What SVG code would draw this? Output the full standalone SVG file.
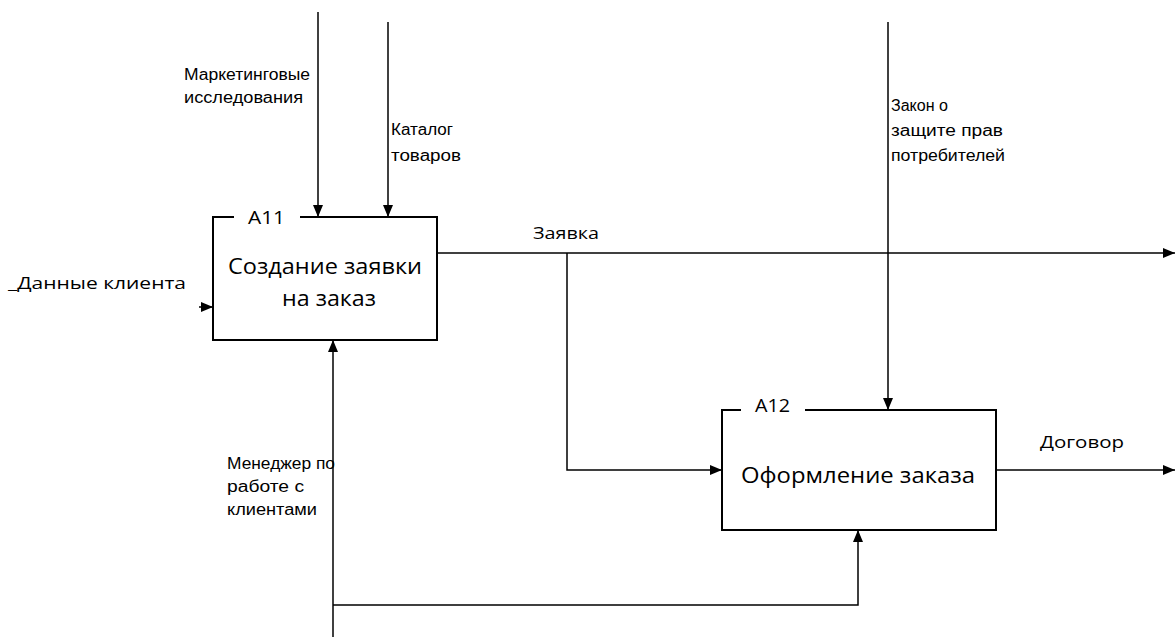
<svg xmlns="http://www.w3.org/2000/svg" width="1175" height="637" viewBox="0 0 1175 637">
<style>
.box{fill:#fff;stroke:#000;stroke-width:2}
.ln{fill:none;stroke:#000;stroke-width:1.5}
.sm{font-family:"Liberation Sans",Arial,sans-serif;font-size:16px;fill:#000}
.md{font-family:"Open Sans","Liberation Sans",sans-serif;font-size:17px;fill:#000}
.big{font-family:"Open Sans","Liberation Sans",sans-serif;font-size:22px;fill:#000}
.id{font-family:"Open Sans","Liberation Sans",sans-serif;font-size:18px;fill:#000}
</style>
<defs>
<marker id="ah" markerWidth="12" markerHeight="10" refX="12" refY="5" orient="auto" markerUnits="userSpaceOnUse">
<path d="M0,0 L12,5 L0,10 Z" fill="#000"/>
</marker>
</defs>
<rect width="1175" height="637" fill="#fff"/>
<g id="connectors">
<path class="ln" d="M318,12 V217" marker-end="url(#ah)"/>
<path class="ln" d="M388,22 V217" marker-end="url(#ah)"/>
<path class="ln" d="M888,22 V410" marker-end="url(#ah)"/>
<path class="ln" d="M437,253 H1175" marker-end="url(#ah)"/>
<path class="ln" d="M567,253 V470 H722" marker-end="url(#ah)"/>
<path class="ln" d="M996,470 H1175" marker-end="url(#ah)"/>
<path class="ln" d="M199,307 H213" marker-end="url(#ah)"/>
<path class="ln" d="M333,637 V340" marker-end="url(#ah)"/>
<path class="ln" d="M333,605 H858 V530" marker-end="url(#ah)"/>
</g>
<g id="labels">
<text class="sm" x="184" y="80" textLength="126" lengthAdjust="spacingAndGlyphs">Маркетинговые</text>
<text class="sm" x="184" y="103" textLength="119" lengthAdjust="spacingAndGlyphs">исследования</text>
<text class="sm" x="391" y="135" textLength="62" lengthAdjust="spacingAndGlyphs">Каталог</text>
<text class="sm" x="391" y="161" textLength="70" lengthAdjust="spacingAndGlyphs">товаров</text>
<text class="sm" x="891" y="111" textLength="57" lengthAdjust="spacingAndGlyphs">Закон о</text>
<text class="sm" x="891" y="136" textLength="112" lengthAdjust="spacingAndGlyphs">защите прав</text>
<text class="sm" x="891" y="161" textLength="114" lengthAdjust="spacingAndGlyphs">потребителей</text>
<text class="sm" x="227" y="469" textLength="108" lengthAdjust="spacingAndGlyphs">Менеджер по</text>
<text class="sm" x="227" y="492" textLength="77" lengthAdjust="spacingAndGlyphs">работе с</text>
<text class="sm" x="227" y="515" textLength="90" lengthAdjust="spacingAndGlyphs">клиентами</text>
<text class="md" x="533" y="239" textLength="66" lengthAdjust="spacingAndGlyphs">Заявка</text>
<text class="md" x="1040" y="448" textLength="84" lengthAdjust="spacingAndGlyphs">Договор</text>
<text class="md" x="8" y="289" textLength="178" lengthAdjust="spacingAndGlyphs">_Данные клиента</text>
</g>
<g id="A11">
<rect class="box" x="213" y="217" width="224" height="123"/>
<rect x="234" y="210" width="66" height="12" fill="#fff"/>
<text class="id" x="248" y="224" textLength="37" lengthAdjust="spacingAndGlyphs">A11</text>
<text class="big" x="325" y="274" text-anchor="middle" textLength="194" lengthAdjust="spacingAndGlyphs">Создание заявки</text>
<text class="big" x="329" y="306" text-anchor="middle" textLength="94" lengthAdjust="spacingAndGlyphs">на заказ</text>
</g>
<g id="A12">
<rect class="box" x="722" y="410" width="274" height="120"/>
<rect x="741" y="403" width="64" height="12" fill="#fff"/>
<text class="id" x="755" y="412" textLength="35" lengthAdjust="spacingAndGlyphs">A12</text>
<text class="big" x="858" y="483" text-anchor="middle" textLength="234" lengthAdjust="spacingAndGlyphs">Оформление заказа</text>
</g>
</svg>
